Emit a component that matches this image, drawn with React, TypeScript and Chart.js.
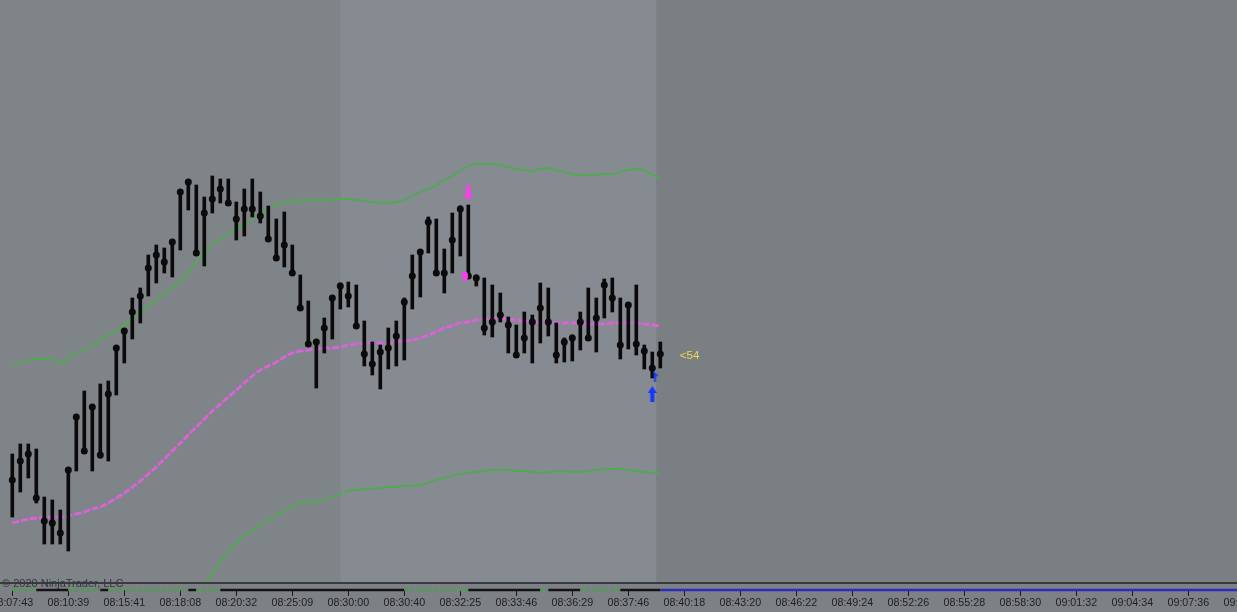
import React, { useEffect, useRef } from 'react';
import { Chart, registerables } from 'chart.js';

Chart.register(...registerables);

// ---- price bars (one per time slot) ----
const highs = [
  3236.5, 3239, 3239, 3237.75, 3225.75, 3225, 3222.5, 3232.5, 3245.75, 3252.25,
  3248.5, 3254, 3254.75, 3263.25, 3267.5, 3275.5, 3278, 3286.25, 3288.75, 3288,
  3290, 3302.25, 3305, 3303.75, 3300.75, 3306, 3305.25, 3305.25, 3299.5, 3302.75,
  3305.25, 3302, 3298.5, 3295.25, 3297, 3288.75, 3281.25, 3274.75, 3265, 3270.5,
  3276, 3279.25, 3279.5, 3278.75, 3269.75, 3264.5, 3263.75, 3268, 3269.75, 3275.5,
  3286.25, 3287.5, 3295.75, 3295.25, 3287.75, 3296.75, 3298.5, 3298.75, 3281.25, 3280.5,
  3278.75, 3276.75, 3270.75, 3268.75, 3272, 3271.25, 3279.25, 3278, 3269.25, 3265.5,
  3266.25, 3272, 3278, 3275.5, 3280.25, 3280.5, 3275.5, 3274.25, 3278.75, 3263.75,
  3262, 3264.5,
];
const lows = [
  3220.75, 3227, 3230.5, 3224.25, 3214, 3214, 3214, 3212.25, 3232.25, 3237.25,
  3232.25, 3235.5, 3234.75, 3251.25, 3259.25, 3265.25, 3269.25, 3276, 3279.25, 3281.75,
  3280.75, 3287.5, 3297.5, 3286.75, 3283.5, 3296.75, 3299.25, 3299.25, 3290, 3291,
  3295.75, 3294.25, 3290.25, 3285.25, 3283.25, 3281.75, 3273, 3264, 3253, 3261.75,
  3265.25, 3272.75, 3273.25, 3268.5, 3258.5, 3256.25, 3252.75, 3257.75, 3258.5, 3260,
  3272.75, 3275.75, 3286.75, 3281.75, 3276.75, 3281.75, 3286, 3281, 3278.5, 3266.25,
  3265.75, 3269.5, 3261.75, 3261.25, 3261.75, 3259.25, 3264.25, 3266, 3259.25, 3259.5,
  3259.75, 3262.5, 3265.5, 3262, 3270.5, 3272, 3260.25, 3262.75, 3261.25, 3257.75,
  3255.5, 3258,
];
const closes = [
  3230, 3234.75, 3236.5, 3225.5, 3219.75, 3219.25, 3216.75, 3232.5, 3245.75, 3237.25,
  3248.25, 3236.25, 3251.5, 3263, 3267.25, 3272, 3276, 3283, 3286.25, 3284.5,
  3289.5, 3302, 3304.5, 3286.75, 3296.75, 3300.25, 3302.75, 3299.25, 3295.25, 3297.75,
  3297.75, 3296, 3290.25, 3285.5, 3288.75, 3281.75, 3273, 3264, 3264.5, 3268,
  3275.5, 3278.5, 3276, 3268.5, 3261.5, 3259, 3262, 3263, 3266, 3274.5,
  3281, 3287, 3294.5, 3281.75, 3281.75, 3290, 3297.75, 3281, 3280.5, 3268,
  3269.5, 3271.25, 3268.75, 3261.25, 3265.5, 3269.5, 3273, 3269.5, 3261.25, 3264.5,
  3265.5, 3269.5, 3265.5, 3270.5, 3278.75, 3275.5, 3263.75, 3273.75, 3264, 3262.25,
  3258, 3261.5,
];

// ---- bands ----
const upperBand = [
  3258.75, 3259.25, 3259.75, 3260.25, 3260.25, 3260.25, 3259.25, 3260.5, 3261.75, 3262.5,
  3263.75, 3265, 3266.25, 3267.25, 3268.75, 3270.5, 3272, 3273.5, 3275, 3276.5,
  3278, 3279.75, 3282, 3284.5, 3286.75, 3288.75, 3290.25, 3291.5, 3292.75, 3294,
  3295.25, 3296.5, 3297.75, 3298.75, 3299.25, 3299.75, 3300, 3300, 3300, 3300,
  3300.25, 3300.25, 3300.25, 3300, 3299.75, 3299.5, 3299.25, 3299.25, 3299.5, 3300,
  3301, 3302, 3302.75, 3303.75, 3305, 3306, 3307.25, 3308.5, 3309, 3309,
  3309, 3308.75, 3308.25, 3307.75, 3307.5, 3307.25, 3307.75, 3308, 3307.5, 3307,
  3306.5, 3306.25, 3306.25, 3306.25, 3306.5, 3306.5, 3307, 3307.5, 3307.75, 3307.5,
  3306.25, 3305.5,
];
const middleBand = [
  3219.25, 3219.75, 3220.25, 3220.5, 3220.5, 3220.75, 3220.75, 3221, 3221.5, 3222,
  3222.75, 3223.25, 3224.25, 3225.5, 3226.75, 3228.25, 3229.75, 3231.5, 3233.25, 3235.25,
  3237.25, 3239.25, 3241.25, 3243.25, 3245.25, 3247.25, 3249, 3250.75, 3252.5, 3254.25,
  3256, 3257.5, 3258.5, 3259.5, 3260.75, 3261.75, 3262.25, 3262.5, 3262.75, 3263,
  3263, 3263.25, 3263.75, 3264, 3264.25, 3264.25, 3264.25, 3264.25, 3264.5, 3264.75,
  3265, 3265.5, 3266.25, 3267, 3268, 3268.5, 3269.25, 3269.5, 3270, 3270.25,
  3270.5, 3270.5, 3270.25, 3270, 3269.75, 3269.5, 3269.5, 3269.5, 3269.25, 3269.25,
  3269.25, 3269.25, 3269, 3269, 3269, 3269.25, 3269.25, 3269.25, 3269.25, 3269,
  3268.75, 3268.5,
];
const lowerBand = [
  null, null, null, null, null, null, null, null, null, null,
  null, null, null, null, null, null, null, null, null, null,
  null, null, null, 3200.75, 3203.5, 3206.5, 3209.5, 3212, 3214.25, 3216,
  3217.25, 3218.75, 3220, 3221, 3222.25, 3223.25, 3224.25, 3224.5, 3224.5, 3225,
  3225.75, 3226.5, 3227.25, 3227.5, 3227.75, 3227.75, 3228, 3228.25, 3228.25, 3228.5,
  3228.5, 3228.75, 3229.25, 3230, 3230.5, 3231, 3231.5, 3231.75, 3232, 3232.25,
  3232.5, 3232.5, 3232.5, 3232.25, 3232.25, 3232, 3231.75, 3232, 3232.25, 3232.25,
  3232, 3232, 3232.25, 3232.5, 3232.75, 3232.75, 3232.75, 3232.5, 3232.25, 3232,
  3231.75, 3231.5,
];

// ---- signals ----
const sellArrows = [{ bar: 57, price: 3301.75 }];
const buyArrows = [{ bar: 80, price: 3251.5 }];
const sellDots = [{ bar: 56.6, price: 3281 }];
const buyTicks = [{ bar: 80.4, price: 3256 }];
const counterText = '<54';

// ---- time axis ----
const timeTickIndex = [0, 7, 14, 21, 28, 35, 42, 49, 56, 63, 70, 77, 84, 91, 98, 105, 112, 119, 126, 133, 140, 147, 154];
const timeLabels = [
  '08:07:43', '08:10:39', '08:15:41', '08:18:08', '08:20:32', '08:25:09', '08:30:00', '08:30:40',
  '08:32:25', '08:33:46', '08:36:29', '08:37:46', '08:40:18', '08:43:20', '08:46:22', '08:49:24',
  '08:52:26', '08:55:28', '08:58:30', '09:01:32', '09:04:34', '09:07:36', '09:10:38',
];

// ---- bottom state strip (runs of state per bar) ----
const stripRuns: [string, number][] = [
  ['g', 3], ['k', 4], ['g', 4], ['k', 1], ['g', 10], ['k', 1], ['g', 3], ['k', 23],
  ['g', 8], ['k', 9], ['g', 1], ['k', 4], ['g', 5], ['k', 5], ['b', 1],
];

const X_MIN = -1.5375;
const X_MAX = 160.9625;
const Y_MIN = 3202.5;
const Y_MAX = 3350;
const PANEL_FLOOR = 3204.25;
const SHADE_BREAKS = [41, 80.5];

const FONT = '"Liberation Sans", Arial, sans-serif';

function makeArrow(color: string, dir: 'up' | 'down') {
  const c = document.createElement('canvas');
  c.width = 9;
  c.height = 16;
  const g = c.getContext('2d') as CanvasRenderingContext2D;
  g.fillStyle = color;
  if (dir === 'up') {
    g.beginPath();
    g.moveTo(4.5, 0);
    g.lineTo(9, 7);
    g.lineTo(0, 7);
    g.closePath();
    g.fill();
    g.fillRect(2.5, 6, 4, 10);
  } else {
    g.fillRect(2.5, 0, 4, 10);
    g.beginPath();
    g.moveTo(0, 9);
    g.lineTo(9, 9);
    g.lineTo(4.5, 16);
    g.closePath();
    g.fill();
  }
  return c;
}

function makeOval(color: string) {
  const c = document.createElement('canvas');
  c.width = 6;
  c.height = 9;
  const g = c.getContext('2d') as CanvasRenderingContext2D;
  g.fillStyle = color;
  g.beginPath();
  g.ellipse(3, 4.5, 3, 4.5, 0, 0, Math.PI * 2);
  g.fill();
  return c;
}

function makeTick(color: string) {
  const c = document.createElement('canvas');
  c.width = 6;
  c.height = 11;
  const g = c.getContext('2d') as CanvasRenderingContext2D;
  g.fillStyle = color;
  g.beginPath();
  g.moveTo(0, 0);
  g.lineTo(6, 5);
  g.lineTo(3.5, 6);
  g.lineTo(3.5, 11);
  g.lineTo(1.5, 11);
  g.lineTo(1.5, 6.5);
  g.closePath();
  g.fill();
  return c;
}

const panelPlugin = {
  id: 'ntPanel',
  beforeDraw(chart: any) {
    const { ctx } = chart;
    const x = chart.scales.x;
    const y = chart.scales.y;
    const sepY = y.getPixelForValue(PANEL_FLOOR);
    ctx.save();
    ctx.fillStyle = '#7d8186';
    ctx.fillRect(0, 0, chart.width, chart.height);
    ctx.fillStyle = '#7a7f83';
    ctx.fillRect(0, 0, chart.width, sepY);
    const x1 = x.getPixelForValue(SHADE_BREAKS[0]);
    const x2 = x.getPixelForValue(SHADE_BREAKS[1]);
    ctx.fillStyle = '#7f8489';
    ctx.fillRect(0, 0, x1, sepY);
    ctx.fillStyle = '#868a91';
    ctx.fillRect(x1, 0, x2 - x1, sepY);
    ctx.restore();
  },
  afterDatasetsDraw(chart: any) {
    const { ctx } = chart;
    const x = chart.scales.x;
    const y = chart.scales.y;
    const sepY = y.getPixelForValue(PANEL_FLOOR);
    ctx.save();
    ctx.strokeStyle = '#222426';
    ctx.lineWidth = 1.5;
    ctx.beginPath();
    ctx.moveTo(0, sepY);
    ctx.lineTo(chart.width, sepY);
    ctx.stroke();
    ctx.fillStyle = '#34363a';
    ctx.font = '11px ' + FONT;
    ctx.textBaseline = 'middle';
    ctx.textAlign = 'left';
    ctx.fillText('\u00A9 2020 NinjaTrader, LLC', 2, sepY + 0.5);
    const last = closes.length - 1;
    ctx.fillStyle = '#ecdc4c';
    ctx.font = '11.5px ' + FONT;
    ctx.fillText(counterText, x.getPixelForValue(last) + 19.5, y.getPixelForValue(closes[last]) + 2);
    ctx.restore();
  },
};

export default function App() {
  const canvasRef = useRef<HTMLCanvasElement | null>(null);

  useEffect(() => {
    document.body.style.margin = '0';
    document.body.style.overflow = 'hidden';
    document.documentElement.style.overflow = 'hidden';
    const canvas = canvasRef.current;
    if (!canvas) return;

    const stripStates: string[] = [];
    stripRuns.forEach(([s, n]) => {
      for (let k = 0; k < n; k++) stripStates.push(s);
    });
    const stripData = stripStates.map((_, i) => ({ x: i, y: 0 }));
    stripData.push({ x: X_MAX + 1, y: 0 });
    const stripColor = (s: string) => (s === 'g' ? '#4f9e4f' : s === 'b' ? '#2a2fb8' : '#141414');

    const chart = new Chart(canvas, {
      type: 'scatter',
      data: {
        datasets: [
          {
            type: 'line',
            label: 'upper',
            data: upperBand.map((v, i) => ({ x: i, y: v })),
            borderColor: '#4fab4f',
            borderWidth: 1.8,
            pointRadius: 0,
            tension: 0.3,
            order: 5,
          } as any,
          {
            type: 'line',
            label: 'middle',
            data: middleBand.map((v, i) => ({ x: i, y: v })),
            borderColor: '#dc62dc',
            borderWidth: 2.8,
            borderDash: [7, 2],
            pointRadius: 0,
            tension: 0.3,
            order: 5,
          } as any,
          {
            type: 'line',
            label: 'lower',
            data: lowerBand.map((v, i) => ({ x: i, y: v })),
            borderColor: '#4fab4f',
            borderWidth: 1.8,
            pointRadius: 0,
            tension: 0.3,
            clip: { left: 0, top: 0, right: 0, bottom: -7 },
            order: 5,
          } as any,
          {
            type: 'bar',
            label: 'range',
            data: highs.map((h, i) => ({ x: i, y: [lows[i], h] })),
            backgroundColor: '#0a0a0a',
            borderWidth: 0,
            barThickness: 3,
            order: 2,
          } as any,
          {
            type: 'scatter',
            label: 'close',
            data: closes.map((c, i) => ({ x: i, y: c })),
            backgroundColor: '#0a0a0a',
            borderWidth: 0,
            pointRadius: 3.5,
            order: 1,
          } as any,
          {
            type: 'scatter',
            label: 'sell',
            data: sellArrows.map((s) => ({ x: s.bar, y: s.price })),
            pointStyle: makeArrow('#ff3cf0', 'down'),
            order: 0,
          } as any,
          {
            type: 'scatter',
            label: 'sellDot',
            data: sellDots.map((s) => ({ x: s.bar, y: s.price })),
            pointStyle: makeOval('#ff3cf0'),
            order: 0,
          } as any,
          {
            type: 'scatter',
            label: 'buy',
            data: buyArrows.map((s) => ({ x: s.bar, y: s.price })),
            pointStyle: makeArrow('#1438ff', 'up'),
            order: 0,
          } as any,
          {
            type: 'scatter',
            label: 'buyTick',
            data: buyTicks.map((s) => ({ x: s.bar, y: s.price })),
            pointStyle: makeTick('#1438ff'),
            order: 0,
          } as any,
          {
            type: 'line',
            label: 'strip',
            yAxisID: 'strip',
            data: stripData,
            borderWidth: 2.5,
            pointRadius: 0,
            clip: false,
            borderColor: '#141414',
            segment: {
              borderColor: (c: any) => stripColor(stripStates[c.p0DataIndex] || 'b'),
              borderDash: (c: any) => (stripStates[c.p0DataIndex] === 'g' ? [4, 2] : []),
            },
            order: 6,
          } as any,
        ],
      },
      options: {
        responsive: false,
        maintainAspectRatio: false,
        animation: false,
        layout: { padding: 0, autoPadding: false },
        plugins: {
          legend: { display: false },
          tooltip: { enabled: false },
        },
        scales: {
          x: {
            type: 'linear',
            position: 'bottom',
            min: X_MIN,
            max: X_MAX,
            offset: false,
            grid: {
              display: true,
              offset: false,
              drawOnChartArea: false,
              drawTicks: true,
              tickLength: 6,
              color: '#1a1a1a',
              lineWidth: 1,
            },
            border: { display: false },
            ticks: {
              autoSkip: false,
              maxRotation: 0,
              minRotation: 0,
              padding: 1,
              color: '#1e1f21',
              font: { family: FONT, size: 10.7 },
              callback: (v: any) => {
                const k = timeTickIndex.indexOf(Number(v));
                return k >= 0 ? timeLabels[k] : '';
              },
            },
            afterBuildTicks: (axis: any) => {
              axis.ticks = timeTickIndex.map((v) => ({ value: v }));
            },
            afterFit: (scale: any) => {
              scale.height = 22;
              scale.paddingLeft = 0;
              scale.paddingRight = 0;
            },
          },
          y: {
            type: 'linear',
            display: false,
            min: Y_MIN,
            max: Y_MAX,
          },
          strip: {
            type: 'linear',
            display: false,
            min: 0,
            max: 1,
          },
        },
      } as any,
      plugins: [panelPlugin],
    });

    return () => {
      chart.destroy();
    };
  }, []);

  return (
    <div style={{ width: 1300, height: 612, overflow: 'hidden' }}>
      <canvas ref={canvasRef} width={1300} height={612} style={{ display: 'block' }} />
    </div>
  );
}
